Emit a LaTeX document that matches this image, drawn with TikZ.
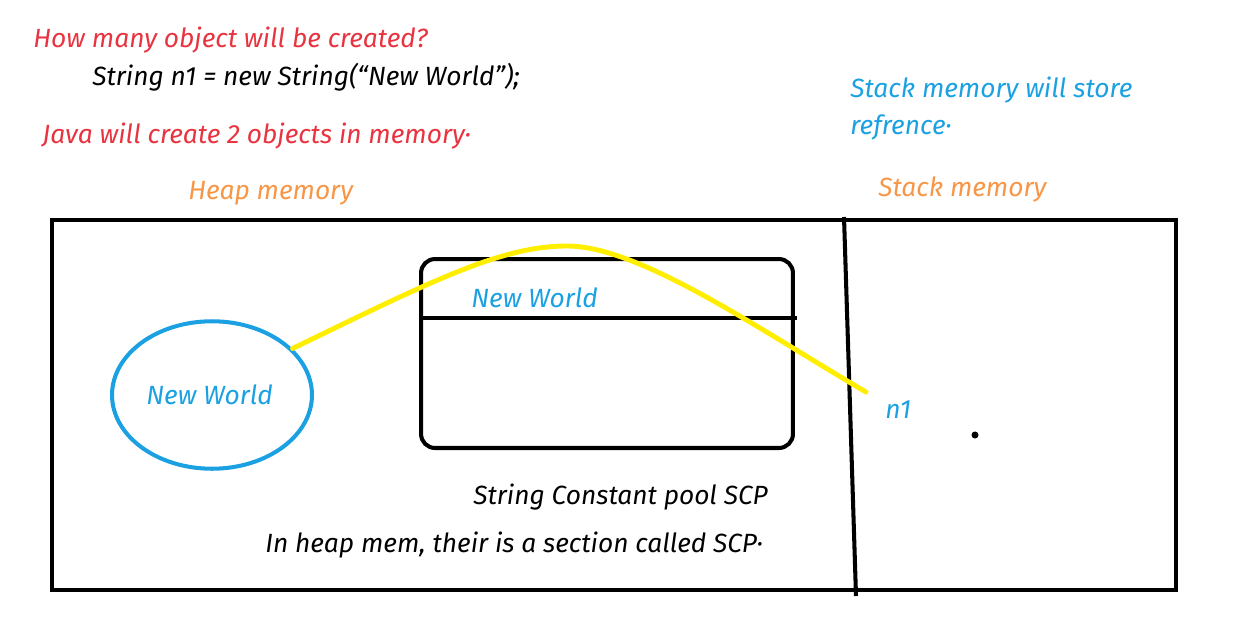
\documentclass[tikz,border=0pt]{standalone}
\usepackage{fontspec}
\setmainfont{Fira Sans}
\usetikzlibrary{shapes.geometric,calc}
\definecolor{askred}{RGB}{232,52,64}
\definecolor{memblue}{RGB}{27,161,226}
\definecolor{memorange}{RGB}{247,150,70}
\definecolor{refyellow}{RGB}{255,238,0}

\begin{document}
\begin{tikzpicture}[
    x=0.02cm, y=-0.02cm,
    txt/.style={anchor=west, inner sep=0pt, font=\fontsize{15}{17}\selectfont\itshape},
    wall/.style={draw, line width=2.3pt},
    obj/.style={draw=memblue, ellipse, line width=2.3pt, minimum width=4cm, minimum height=2.95cm},
    pool/.style={draw, line width=2.3pt, rounded corners=8pt, minimum width=7.44cm, minimum height=3.78cm},
    ref/.style={draw=refyellow, line width=2.8pt, line cap=round},
  ]
  \useasboundingbox (0,0) rectangle (1236,632);

  % ---------------- question
  \node[txt, text=askred] (ask) at (33,40) {How many object will be created?};
  \node[txt] (code) at (92,77) {String n1 = new String(``New World'');};
  \node[txt, text=askred] (ans) at (42,136) {Java will create 2 objects in memory·};

  % ---------------- headings
  \node[txt, text=memorange] (heap) at (188,193) {Heap memory};
  \node[txt, text=memblue] (note1) at (850,90) {Stack memory will store};
  \node[txt, text=memblue] (note2) at (850,127) {refrence·};
  \node[txt, text=memorange] (stack) at (878,189) {Stack memory};

  % ---------------- memory frame
  \draw[wall] (52,220) rectangle (1176,590);
  \draw[wall] (844,217) -- (856,596);

  % ---------------- heap object
  \node[obj] (hobj) at (212,395) {};
  \node[txt, text=memblue] at (146,395) {New World};

  % ---------------- string constant pool
  \node[pool] (scp) at (607,353.5) {};
  \draw[wall] ($(scp.west)+(0,-35.5)$) -- ($(scp.east)+(2,-35.5)$);
  \node[txt, text=memblue] (lit) at (471,298) {New World};
  \node[txt] (scpname) at (473,497) {String Constant pool SCP};
  \node[txt] (scpnote) at (265,545) {In heap mem, their is a section called SCP·};

  % ---------------- stack reference
  \node[txt, text=memblue] (n1) at (885,410) {n1};
  \coordinate (n1end) at (866,392);
  \fill (975,435) circle (2pt);
  \draw[ref] (hobj.30) .. controls (430,282) and (500,246) .. (567,246)
       .. controls (640,246) and (760,330) .. (n1end);
\end{tikzpicture}
\end{document}
